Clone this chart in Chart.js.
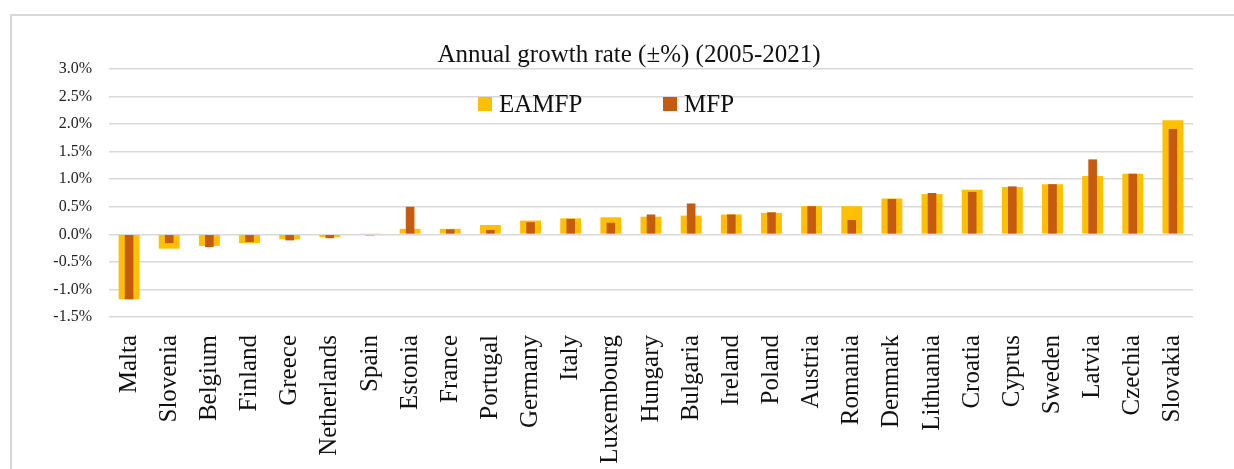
<!DOCTYPE html>
<html>
<head>
<meta charset="utf-8">
<script src="https://cdn.jsdelivr.net/npm/chart.js@4.4.1/dist/chart.umd.min.js"></script>
<style>
  html, body { margin: 0; padding: 0; background: #fff; overflow: hidden; }
  #frame { position: absolute; left: 10px; top: 14px; width: 1300px; height: 600px; border: 2px solid #d9d9d9; }
  #wrap { position: absolute; left: 0; top: 0; width: 1234px; height: 500px; }
</style>
</head>
<body>
<div id="frame"></div>
<div id="wrap"><canvas id="growthChart"></canvas></div>
<script>
const countries = ['Malta', 'Slovenia', 'Belgium', 'Finland', 'Greece', 'Netherlands', 'Spain', 'Estonia', 'France', 'Portugal', 'Germany', 'Italy', 'Luxembourg', 'Hungary', 'Bulgaria', 'Ireland', 'Poland', 'Austria', 'Romania', 'Denmark', 'Lithuania', 'Croatia', 'Cyprus', 'Sweden', 'Latvia', 'Czechia', 'Slovakia'];
const eamfp = [-1.18, -0.26, -0.21, -0.16, -0.09, -0.05, 0.01, 0.10, 0.10, 0.17, 0.25, 0.29, 0.31, 0.32, 0.34, 0.36, 0.39, 0.51, 0.51, 0.65, 0.73, 0.81, 0.86, 0.91, 1.06, 1.10, 2.07];
const mfp = [-1.18, -0.16, -0.23, -0.14, -0.11, -0.07, -0.02, 0.50, 0.09, 0.08, 0.22, 0.28, 0.21, 0.36, 0.56, 0.36, 0.40, 0.51, 0.26, 0.64, 0.75, 0.77, 0.87, 0.91, 1.36, 1.10, 1.91];
const titleText = 'Annual growth rate (±%) (2005-2021)';

const serif = "'Liberation Serif', 'Times New Roman', serif";

// title and legend sit over the plot like in the original, so draw them ourselves
const overlay = {
  id: 'overlay',
  afterDraw(chart) {
    const c = chart.ctx;
    c.save();
    c.fillStyle = '#111';
    c.font = '25px ' + serif;
    c.textAlign = 'center';
    c.textBaseline = 'alphabetic';
    c.fillText(titleText, 629, 62);

    const items = [[0, 478], [1, 663]];
    c.textAlign = 'left';
    items.forEach(([i, x]) => {
      const ds = chart.data.datasets[i];
      c.fillStyle = ds.backgroundColor;
      c.fillRect(x, 97, 14, 14);
      c.fillStyle = '#111';
      c.fillText(ds.label, x + 21, 112);
    });
    c.restore();
  }
};

new Chart(document.getElementById('growthChart'), {
  type: 'bar',
  data: {
    labels: countries,
    datasets: [{
      label: 'EAMFP',
      data: eamfp,
      backgroundColor: '#ffc000',
      barPercentage: 0.52,
      categoryPercentage: 1,
      grouped: false,
      order: 2
    }, {
      label: 'MFP',
      data: mfp,
      backgroundColor: '#c55a11',
      barPercentage: 0.215,
      categoryPercentage: 1,
      grouped: false,
      order: 1
    }]
  },
  options: {
    responsive: true,
    maintainAspectRatio: false,
    animation: false,
    layout: { padding: { top: 69, right: 41, left: 0, bottom: 0 } },
    plugins: {
      legend: { display: false },
      title: { display: false },
      tooltip: { enabled: false }
    },
    scales: {
      x: {
        grid: { display: false, drawTicks: false },
        border: { display: false },
        ticks: {
          autoSkip: false,
          minRotation: 90,
          maxRotation: 90,
          padding: 18,
          color: '#111',
          font: { family: serif, size: 25 }
        },
        afterFit(scale) { scale.height = 183; }
      },
      y: {
        min: -1.5,
        max: 3.0,
        grid: { color: '#d9d9d9', lineWidth: 1.5, drawTicks: false },
        border: { display: false },
        ticks: {
          stepSize: 0.5,
          padding: 17,
          color: '#222',
          font: { family: serif, size: 16 },
          callback: (v) => v.toFixed(1) + '%'
        },
        afterFit(scale) { scale.width = 109; }
      }
    }
  },
  plugins: [overlay]
});
</script>
</body>
</html>
